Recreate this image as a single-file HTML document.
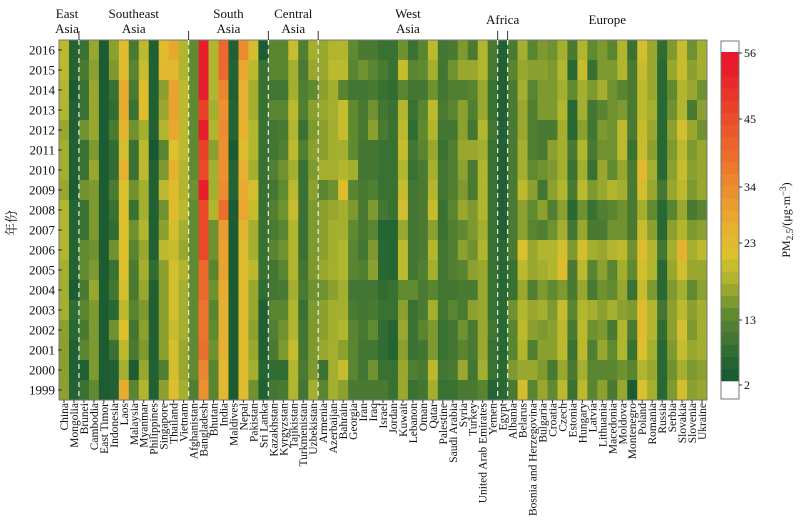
<!DOCTYPE html>
<html><head><meta charset="utf-8">
<style>
body{margin:0;background:#fff;width:806px;height:527px;overflow:hidden;font-family:"Liberation Serif","Noto Serif CJK SC",serif;}
svg text{font-family:"Liberation Serif","Noto Serif CJK SC",serif;fill:#111;}
</style></head><body>
<svg id="chart" width="806" height="527" xmlns="http://www.w3.org/2000/svg"></svg>
<script>
const countries=["China","Mongolia","Brunei","Cambodia","East Timor","Indonesia","Laos","Malaysia","Myanmar","Philippines","Singapore","Thailand","Vietnam","Afghanistan","Bangladesh","Bhutan","India","Maldives","Nepal","Pakistan","Sri Lanka","Kazakhstan","Kyrgyzstan","Tajikistan","Turkmenistan","Uzbekistan","Armenia","Azerbaijan","Bahrain","Georgia","Iran","Iraq","Israel","Jordan","Kuwait","Lebanon","Oman","Qatar","Palestine","Saudi Arabia","Syria","Turkey","United Arab Emirates","Yemen","Egypt","Albania","Belarus","Bosnia and Herzegovina","Bulgaria","Croatia","Czech","Estonia","Hungary","Latvia","Lithuania","Macedonia","Moldova","Montenegro","Poland","Romania","Russia","Serbia","Slovakia","Slovenia","Ukraine"];
const years=[2016,2015,2014,2013,2012,2011,2010,2009,2008,2007,2006,2005,2004,2003,2002,2001,2000,1999];
const regions=["East|Asia","Southeast|Asia","South|Asia","Central|Asia","West|Asia","Africa","Europe"];
const regionSizes=[2,11,8,5,18,1,20];
const cbTicks=[56,45,34,23,13,2];
// values per country, 2016 -> 1999
const values=[
[20,20,19,19,17,18,18,17,19,19,19,18,18,18,16,16,16,16],
[5,5,3,4,4,4,4,3,5,5,5,5,3,7,6,4,4,5],
[8,10,8,8,14,8,8,14,8,8,13,13,10,12,10,12,4,8],
[17,16,17,17,17,15,17,15,15,15,14,15,17,15,15,15,15,13],
[3,3,3,3,3,3,3,3,3,3,3,3,3,3,3,3,3,3],
[16,15,8,7,10,7,7,10,8,7,14,8,9,6,14,8,4,4],
[24,24,28,28,26,22,27,23,23,23,23,23,22,20,23,20,18,28],
[10,12,10,8,14,8,8,14,8,14,12,10,10,12,9,10,3,12],
[20,21,24,24,18,20,20,18,18,19,17,18,17,15,16,15,17,19],
[4,4,4,4,4,2,4,4,4,4,4,7,4,4,4,4,4,4],
[24,25,16,17,19,12,15,20,14,16,20,16,16,16,16,16,11,16],
[29,25,30,30,29,23,27,24,24,22,21,22,22,22,21,22,22,24],
[19,19,20,20,20,20,19,19,20,18,17,19,18,18,18,17,17,18],
[13,13,13,13,13,13,13,14,13,13,13,13,13,13,13,13,13,11],
[53,53,54,47,54,47,46,53,46,46,46,40,40,38,38,39,35,33],
[19,19,19,18,19,16,18,18,19,14,14,12,14,12,13,14,12,12],
[40,40,35,33,34,33,33,34,39,31,30,30,28,27,27,27,25,25],
[4,5,4,5,5,3,5,5,3,3,3,3,3,3,3,3,3,3],
[34,29,27,27,27,24,27,28,29,26,24,24,24,24,24,24,24,24],
[22,20,18,18,19,19,18,22,21,18,18,20,17,17,16,17,18,14],
[3,8,8,8,8,8,8,8,8,8,8,8,7,4,4,4,5,4],
[12,12,9,12,9,9,11,9,11,10,12,9,9,12,11,10,7,9],
[12,12,9,12,10,11,14,13,14,12,14,12,10,12,14,15,7,10],
[21,18,18,20,19,20,18,20,21,19,19,19,18,19,19,21,19,19],
[11,10,11,11,8,11,8,8,8,8,8,9,10,8,9,9,10,9],
[18,17,13,16,15,16,15,16,15,15,15,15,14,15,15,15,15,18],
[17,17,16,17,16,16,18,12,16,16,16,17,14,16,16,17,8,12],
[19,20,18,18,18,18,18,14,17,18,18,18,16,18,18,18,18,18],
[19,20,12,21,21,18,19,24,18,18,19,19,18,18,19,16,21,16],
[13,12,9,13,13,13,18,12,15,13,12,12,9,10,12,12,12,10],
[10,14,9,10,10,9,9,10,10,10,9,11,9,9,10,9,9,10],
[10,12,10,14,16,9,9,11,15,12,15,16,9,10,13,9,14,10],
[8,10,8,9,10,8,8,8,9,5,6,6,7,8,7,7,8,10],
[8,8,7,8,8,8,8,8,8,5,5,5,8,8,5,5,8,8],
[14,21,12,19,20,21,19,21,22,17,20,20,13,16,17,16,17,17],
[8,12,9,8,7,9,8,9,9,9,9,9,13,8,8,8,11,8],
[12,13,9,12,13,12,10,10,10,10,10,11,10,10,12,9,10,9],
[20,18,14,20,19,17,18,19,21,16,19,18,12,18,15,15,20,18],
[9,9,9,10,9,8,9,9,8,8,9,9,9,9,8,8,9,8],
[10,14,11,12,9,11,11,11,12,11,11,11,9,12,9,9,10,8],
[15,17,11,16,16,17,16,15,17,13,16,12,10,10,14,12,17,10],
[10,17,12,11,9,17,10,10,15,15,14,16,10,16,10,10,9,10],
[19,19,17,17,19,18,19,19,19,18,19,17,17,17,17,17,18,12],
[10,10,8,8,9,8,8,8,8,8,8,8,8,8,9,8,8,5],
[4,4,4,4,4,4,4,4,4,4,6,6,6,6,6,6,6,6],
[10,12,10,10,10,10,10,10,10,10,10,8,8,14,12,12,15,10],
[18,17,18,17,17,18,18,20,16,16,23,20,17,19,20,19,17,22],
[12,16,12,11,11,11,13,16,13,12,17,17,11,17,16,11,17,12],
[15,16,15,15,10,10,14,9,16,11,19,18,15,18,15,16,15,17],
[14,15,15,15,10,16,15,16,11,14,19,19,13,15,16,16,10,13],
[18,19,18,19,18,18,18,19,16,18,22,24,15,21,20,20,17,20],
[10,6,13,6,6,10,8,10,6,9,15,10,10,12,10,8,10,8],
[19,21,18,18,16,19,18,20,14,17,22,20,17,19,20,20,18,20],
[13,8,15,9,9,10,8,15,8,10,18,12,10,18,14,11,12,12],
[15,15,18,12,15,14,17,17,11,10,17,16,14,16,15,17,12,16],
[12,15,14,14,14,14,13,19,12,14,19,12,13,18,10,13,12,10],
[19,19,12,15,20,20,17,18,14,14,20,18,17,16,19,19,14,17],
[8,10,10,10,10,8,10,10,10,10,14,13,8,15,10,8,12,3],
[22,21,20,20,21,21,25,22,18,21,24,22,21,24,24,23,19,23],
[17,17,17,18,17,16,18,17,13,16,19,19,15,19,19,18,17,18],
[7,6,6,6,6,6,6,9,6,6,9,6,6,9,7,6,6,6],
[15,17,13,14,16,15,16,17,12,16,18,17,15,16,16,15,14,15],
[21,21,19,19,22,20,21,20,17,19,27,22,18,20,22,21,18,22],
[14,16,17,10,17,15,16,15,10,15,18,17,13,16,15,17,15,16],
[18,18,14,16,14,17,17,17,12,16,20,17,16,18,18,18,16,17]
];
const NS="http://www.w3.org/2000/svg";
const svg=document.getElementById("chart");
function mk(tag,attrs,parent){const e=document.createElementNS(NS,tag);for(const k in attrs)e.setAttribute(k,attrs[k]);(parent||svg).appendChild(e);return e;}
const X0=59,X1=707,Y0=40,Y1=400;
const cw=(X1-X0)/countries.length, rh=(Y1-Y0)/years.length;
const xPos=i=>X0+i*cw, yPos=j=>Y0+j*rh;
const stops=[[2,[24,88,50]],[6,[40,104,50]],[10,[74,122,50]],[13,[96,138,48]],[16,[140,160,48]],[19,[178,182,46]],[23,[220,192,46]],[28,[232,172,48]],[34,[236,140,48]],[40,[236,104,44]],[46,[234,72,40]],[53,[232,30,44]],[56,[230,24,46]]];
function color(v){v=Math.max(2,Math.min(56,v));for(let i=1;i<stops.length;i++){if(v<=stops[i][0]){const a=stops[i-1],b=stops[i],t=(v-a[0])/(b[0]-a[0]);return "rgb("+a[1].map((c,k)=>Math.round(c+(b[1][k]-c)*t)).join(",")+")";}}return "rgb(230,24,46)";}
const cells=mk("g",{});


values.forEach((col,i)=>col.forEach((v,j)=>{
  const r=mk("rect",{x:xPos(i).toFixed(2),y:yPos(j).toFixed(2),width:(cw+0.4).toFixed(2),height:(rh+0.4).toFixed(2),fill:color(v)},cells);
  
  
}));
const frame=mk("rect",{x:X0,y:Y0,width:X1-X0,height:Y1-Y0,fill:"none",stroke:"#777","stroke-width":1});


let acc=0;
regionSizes.forEach((n,k)=>{
  const start=acc;acc+=n;
  const cx=(xPos(start)+xPos(acc))/2;
  const parts=regions[k].split("|");
  const t=mk("text",{x:k===0?67:cx,"text-anchor":"middle","font-size":13});
  
  
  if(parts.length===1){t.setAttribute("y",24);t.textContent=parts[0];}
  else{parts.forEach((p,m)=>{const s=mk("tspan",{x:k===0?67:cx,y:18+m*15},t);s.textContent=p;});}
  if(k<regionSizes.length-1){
    const bx=xPos(acc);
    const d=mk("line",{x1:bx,x2:bx,y1:Y0,y2:Y1,stroke:"#eee","stroke-width":1.2,"stroke-dasharray":"5,4"});
    
    
    const tk=mk("line",{x1:bx,x2:bx,y1:31,y2:Y0,stroke:"#333","stroke-width":1});
    
    
  }
});
years.forEach((yr,j)=>{
  const yc=yPos(j)+rh/2;
  const t=mk("text",{x:55,y:yc+4.5,"text-anchor":"end","font-size":13});
  
  
  t.textContent=yr;
  const tk=mk("line",{x1:X0-1,x2:X0+3,y1:yc,y2:yc,stroke:"#333"});
  
  
});
const yt=mk("text",{x:0,y:0,"font-size":13,"text-anchor":"middle",transform:"translate(16,223) rotate(-90)"});


yt.textContent="年份";
countries.forEach((c,i)=>{
  const xc=xPos(i)+cw/2;
  const tk=mk("line",{x1:xc,x2:xc,y1:Y1,y2:Y1+3,stroke:"#333"});
  
  
  const t=mk("text",{x:0,y:0,"font-size":11.5,"text-anchor":"end",transform:"translate("+(xc+4).toFixed(1)+","+(Y1+3)+") rotate(-90)"});
  
  
  t.textContent=c;
});
const CBX=721,CBW=18,CBT=41,CBB=399,CT=52,CB=381;
const cbBox=mk("rect",{x:CBX,y:CBT,width:CBW,height:CBB-CBT,fill:"#fff",stroke:"#777"});


const nb=27;
for(let b=0;b<nb;b++){
  const v=2+(b+0.5)*(54/nb);
  const h=(CB-CT)/nb;
  const r=mk("rect",{x:CBX+0.5,y:(CB-(b+1)*h).toFixed(2),width:CBW-1,height:(h+0.3).toFixed(2),fill:color(v)});
  
  
}
const cbPos=[53,119,187,243,320,385];
cbTicks.forEach((v,k)=>{
  const tk=mk("line",{x1:CBX+CBW,x2:CBX+CBW+3,y1:cbPos[k],y2:cbPos[k],stroke:"#333"});
  
  
  const t=mk("text",{x:CBX+CBW+5,y:cbPos[k]+4,"font-size":12});
  
  
  t.textContent=v;
});
const ct=mk("text",{x:0,y:0,"font-size":12,"text-anchor":"middle",transform:"translate(790,220) rotate(-90)"});


const s1=mk("tspan",{},ct);s1.textContent="PM";
const s2=mk("tspan",{dy:3,"font-size":9},ct);s2.textContent="2.5";
const s3=mk("tspan",{dy:-3},ct);s3.textContent="/(μg·m";
const s4=mk("tspan",{dy:-4,"font-size":9},ct);s4.textContent="−3";
const s5=mk("tspan",{dy:4},ct);s5.textContent=")";
</script>
</body></html>
